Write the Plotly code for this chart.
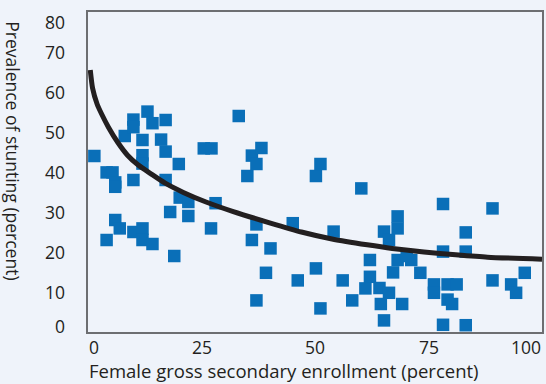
import plotly.graph_objects as go

# Scatter data: female gross secondary enrollment (%) vs prevalence of stunting (%)
enroll = [1.4, 4.1, 5.4, 6.0, 6.0, 4.1, 6.0, 7.0, 8.1, 10.0,
          10.0, 10.0, 10.0, 12.0, 12.0, 12.0, 12.0, 12.0, 13.1, 14.2,
          14.2, 16.1, 17.1, 17.1, 17.1, 18.1, 19.0, 20.0, 20.2, 22.1,
          22.1, 25.5, 27.2, 27.1, 28.1, 33.2, 35.1, 36.1, 37.1, 38.2,
          36.1, 37.1, 40.2, 39.2, 37.1, 45.1, 46.2, 50.2, 51.2, 50.2,
          51.2, 54.1, 56.1, 58.2, 60.2, 62.1, 62.1, 61.1, 64.2, 66.3,
          64.5, 65.2, 65.2, 66.3, 68.2, 68.2, 68.2, 67.2, 69.2, 70.2,
          71.2, 73.2, 76.2, 76.2, 78.2, 78.2, 78.2, 79.2, 79.2, 80.2,
          81.2, 83.2, 83.2, 83.2, 89.1, 89.1, 93.2, 94.3, 96.2]
stunting = [44.0, 39.9, 39.9, 37.4, 36.3, 23.0, 28.0, 25.9, 49.0, 38.0,
            53.1, 51.2, 25.0, 48.0, 44.2, 42.1, 25.9, 23.0, 55.1, 52.2,
            22.0, 48.1, 45.1, 53.0, 38.0, 30.0, 19.0, 42.0, 33.6, 32.5,
            29.0, 45.9, 45.9, 25.9, 32.2, 54.0, 39.0, 44.1, 42.0, 46.0,
            23.0, 26.9, 20.9, 14.8, 7.9, 27.2, 12.9, 39.0, 42.0, 15.9,
            5.9, 25.1, 12.9, 7.9, 35.9, 18.0, 13.8, 10.9, 11.0, 9.8,
            7.0, 2.9, 25.1, 23.0, 28.9, 25.9, 18.0, 14.9, 7.0, 19.0,
            18.0, 14.8, 11.9, 9.8, 32.0, 20.1, 1.8, 11.9, 8.1, 7.0,
            11.9, 24.9, 20.1, 1.7, 30.9, 12.9, 11.9, 9.8, 14.8]

# Fitted trend curve
curve_x = [0.5, 1.0, 2.0, 3.0, 4.5, 6.5, 8.7, 11.0, 13.8, 17.0, 21.0, 26.0,
           32.0, 40.0, 47.0, 54.0, 61.5, 67.0, 74.0, 81.0, 88.0, 100.0]
curve_y = [65.5, 61.0, 57.0, 54.5, 51.2, 47.5, 44.2, 41.8, 39.6, 37.2, 34.9, 32.5,
           30.1, 27.3, 25.0, 23.2, 21.8, 20.9, 20.0, 19.3, 18.7, 18.2]

x_ticks = [0, 25, 50, 75, 100]
y_ticks = [0, 10, 20, 30, 40, 50, 60, 70, 80]
x_title = "Female gross secondary enrollment (percent)"
y_title = "Prevalence of stunting (percent)"

BG = "#eff3fa"
TXT = "#231f20"
FONT = "Open Sans, Liberation Sans, Arial, sans-serif"
FS = 17.5

fig = go.Figure()
fig.add_trace(go.Scatter(
    x=enroll, y=stunting, mode="markers",
    marker=dict(symbol="square", size=12.5, color="#0a6fb8", line=dict(width=0)),
    showlegend=False, hoverinfo="skip"))
fig.add_trace(go.Scatter(
    x=curve_x, y=curve_y, mode="lines",
    line=dict(color=TXT, width=5, shape="spline", smoothing=0.6),
    showlegend=False, hoverinfo="skip"))

annotations = []
for v in x_ticks:
    if v == x_ticks[0]:
        anchor = "left"
    elif v == x_ticks[-1]:
        anchor = "right"
    else:
        anchor = "center"
    annotations.append(dict(x=v, xref="x", y=0, yref="paper", text=str(v),
                            xanchor=anchor, yanchor="middle", yshift=-14.5, borderpad=0,
                            showarrow=False, font=dict(size=FS, color=TXT, family=FONT)))
for v in y_ticks:
    if v == y_ticks[0]:
        anchor, ys = "bottom", -7
    elif v == y_ticks[-1]:
        anchor, ys = "top", 3
    else:
        anchor, ys = "middle", 0
    annotations.append(dict(x=0, xref="paper", y=v, yref="y", text=str(v),
                            xanchor="right", yanchor=anchor, xshift=-22, yshift=ys,
                            borderpad=0, showarrow=False,
                            font=dict(size=FS, color=TXT, family=FONT)))
annotations.append(dict(x=0, xref="paper", y=-52 / 320, yref="paper", text=x_title,
                        xanchor="left", yanchor="bottom", borderpad=0, showarrow=False,
                        font=dict(size=18.5, color=TXT, family=FONT)))
annotations.append(dict(x=-0.1645, xref="paper", y=0.567, yref="paper", text=y_title,
                        xanchor="center", yanchor="middle", textangle=90, showarrow=False,
                        font=dict(size=17.5, color=TXT, family=FONT)))

fig.update_layout(
    width=546, height=384,
    margin=dict(l=88, r=2, t=12, b=52),
    paper_bgcolor=BG, plot_bgcolor=BG,
    xaxis=dict(range=[0, 100], showgrid=False, zeroline=False, showticklabels=False,
               ticks="", showline=True, mirror=True, linecolor="#6d6e71", linewidth=1.5),
    yaxis=dict(range=[0, 80], showgrid=False, zeroline=False, showticklabels=False,
               ticks="", showline=True, mirror=True, linecolor="#6d6e71", linewidth=1.5),
    annotations=annotations,
)

fig.write_html("out.html")
